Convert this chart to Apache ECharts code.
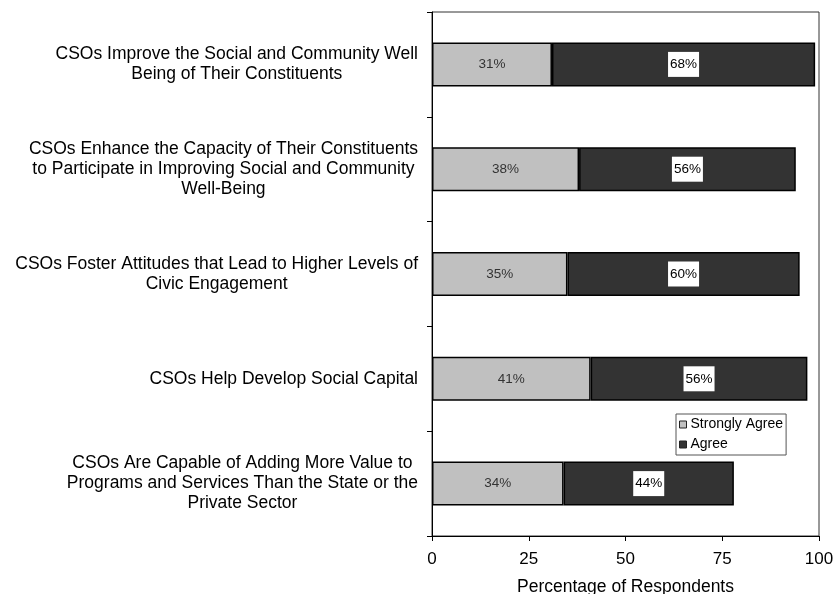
<!DOCTYPE html>
<html>
<head>
<meta charset="utf-8">
<script src="https://cdn.jsdelivr.net/npm/echarts@6/dist/echarts.min.js"></script>
<style>
  html, body { margin: 0; padding: 0; background: #fff; }
  #chart { width: 837px; height: 594px; }
</style>
</head>
<body>
<div id="chart"></div>
<script>
// Survey statements (top to bottom)
const categories = [
  'CSOs Improve the Social and Community Well\nBeing of Their Constituents',
  'CSOs Enhance the Capacity of Their Constituents\nto Participate in Improving Social and Community\nWell-Being',
  'CSOs Foster Attitudes that Lead to Higher Levels of\nCivic Engagement',
  'CSOs Help Develop Social Capital',
  'CSOs Are Capable of Adding More Value to\nPrograms and Services Than the State or the\nPrivate Sector'
];
// Share of respondents (%)
const stronglyAgree = [31, 38, 35, 41, 34];
const agree = [68, 56, 60, 56, 44];
const xTicks = [0, 25, 50, 75, 100];
const seriesNames = ['Strongly Agree', 'Agree'];

const FONT = '"Liberation Sans", Arial, sans-serif';

const chart = echarts.init(document.getElementById('chart'), null, { renderer: 'canvas' });

chart.setOption({
  backgroundColor: '#ffffff',
  animation: false,
  textStyle: { fontFamily: FONT, color: '#000' },
  grid: {
    left: 432, right: 18, top: 12, bottom: 58,
    containLabel: false,
    outerBoundsMode: 'none',
    show: true, borderColor: '#333', borderWidth: 1, backgroundColor: 'transparent'
  },
  legend: {
    data: seriesNames,
    orient: 'vertical',
    left: 676, top: 414,
    padding: [3, 3, 3, 3],
    itemGap: 5,
    itemWidth: 7, itemHeight: 7,
    icon: 'rect',
    backgroundColor: '#fff',
    borderColor: '#555', borderWidth: 1, borderRadius: 0,
    itemStyle: { borderColor: '#222', borderWidth: 1 },
    textStyle: { fontFamily: FONT, fontSize: 14, color: '#000', lineHeight: 15, padding: [0, 0, 0, -1] }
  },
  xAxis: {
    type: 'value',
    min: xTicks[0], max: xTicks[xTicks.length - 1], interval: 25,
    name: 'Percentage of Respondents',
    nameLocation: 'middle', nameGap: 42,
    nameTextStyle: { fontFamily: FONT, fontSize: 17.5, color: '#000' },
    axisLine: { show: true, lineStyle: { color: '#000', width: 1 } },
    axisTick: { show: true, length: 5, inside: false, lineStyle: { color: '#000' } },
    axisLabel: { fontFamily: FONT, fontSize: 17, color: '#000', margin: 15 },
    splitLine: { show: false }
  },
  yAxis: {
    type: 'category',
    inverse: true,
    data: categories,
    axisLine: { show: true, lineStyle: { color: '#000', width: 1 } },
    axisTick: { show: true, length: 5, alignWithLabel: false, lineStyle: { color: '#000' } },
    axisLabel: {
      margin: 14,
      color: '#000',
      formatter: function (value) {
        return value.split('\n').map(function (l) { return '{c|' + l + '}'; }).join('\n');
      },
      rich: {
        c: { align: 'center', fontFamily: FONT, fontSize: 17.5, lineHeight: 20, color: '#000' }
      }
    },
    splitLine: { show: false }
  },
  series: [
    {
      name: seriesNames[0],
      type: 'bar',
      stack: 'total',
      data: stronglyAgree,
      barWidth: 44,
      itemStyle: { color: '#c0c0c0', borderColor: '#000', borderWidth: 1.5 },
      label: {
        show: true, position: 'inside', formatter: '{c}%',
        fontFamily: FONT, fontSize: 13.5, color: '#333'
      }
    },
    {
      name: seriesNames[1],
      type: 'bar',
      stack: 'total',
      data: agree,
      barWidth: 44,
      itemStyle: { color: '#333333', borderColor: '#000', borderWidth: 1.5 },
      label: {
        show: true, position: 'inside', formatter: '{c}%',
        fontFamily: FONT, fontSize: 13.5, color: '#000',
        backgroundColor: '#fff', padding: [6, 2, 5, 2]
      }
    }
  ]
});
</script>
</body>
</html>
